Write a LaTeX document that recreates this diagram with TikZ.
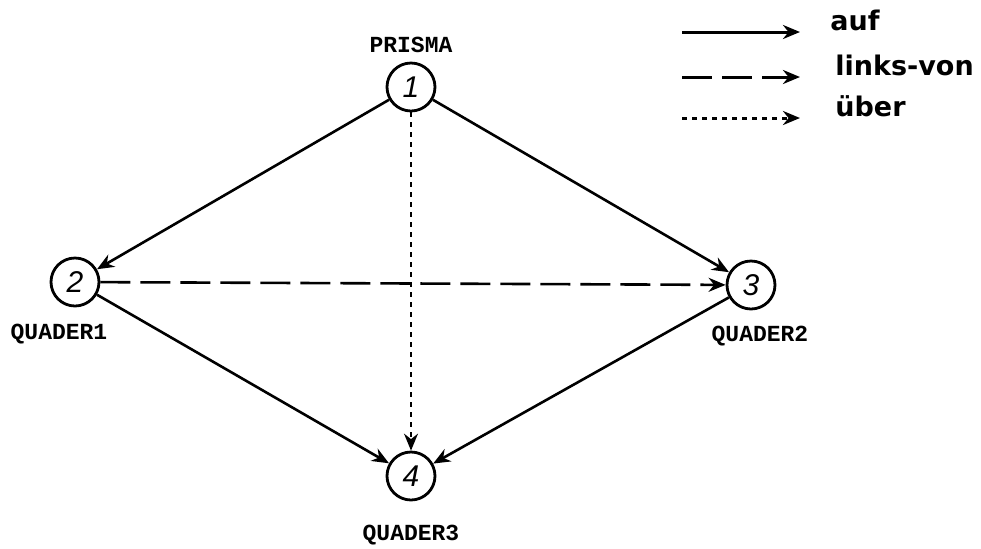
\documentclass[tikz,border=0pt]{standalone}
\usepackage{fontspec}
\usetikzlibrary{arrows.meta,positioning}
\newfontfamily\labelfont{Liberation Mono}
\newfontfamily\numfont{Liberation Sans}
\newfontfamily\keyfont{DejaVu Sans}
\tikzset{
  obj/.style={circle, draw, line width=1.4pt, minimum size=24pt, inner sep=0pt,
    font=\numfont\itshape\fontsize{15}{15}\selectfont},
  objname/.style={font=\labelfont\bfseries\fontsize{11.5}{12}\selectfont},
  keytext/.style={font=\keyfont\bfseries\fontsize{13.5}{14}\selectfont, inner sep=0pt},
  rel/.style={-{Stealth[length=8.5pt,width=7pt]}, line width=1.3pt},
  auf/.style={rel},
  links/.style={rel, dash pattern=on 15pt off 5pt},
  ueber/.style={rel, line width=0.8pt, dash pattern=on 2.5pt off 2.5pt},
}
\begin{document}
\begin{tikzpicture}[x=0.5pt, y=-0.5pt]
    \useasboundingbox (0,0) rectangle (981,548);
    \node[obj] (n1) at (411,87) {1};
    \node[obj] (n2) at (75,282) {2};
    \node[obj] (n3) at (751,285) {3};
    \node[obj] (n4) at (411,476) {4};
    \node[objname, above=1pt of n1] (l1) {PRISMA};
    \node[objname, below=5pt of n2, xshift=-8pt] (l2) {QUADER1};
    \node[objname, below=4.5pt of n3, xshift=4.5pt] (l3) {QUADER2};
    \node[objname, below=8.5pt of n4] (l4) {QUADER3};
    \draw[auf] (n1) -- (n2);
    \draw[auf] (n1) -- (n3);
    \draw[auf] (n2) -- (n4);
    \draw[auf] (n3) -- (n4);
    \draw[links] (n2) -- (n3);
    \draw[ueber] (n1) -- (n4);
    % legend
    \foreach \y/\tx/\sty/\txt in {32/830/auf/auf, 77/835/links/links-von, 118/835/ueber/über} {
      \coordinate (s\y) at (682,\y);
      \coordinate (e\y) at (800,\y);
      \draw[\sty, line width=1.5pt] (s\y) -- (e\y);
      \node[keytext, anchor=base west] (k\y) at (\tx,\y-2) {\txt};
    }
\end{tikzpicture}
\end{document}
